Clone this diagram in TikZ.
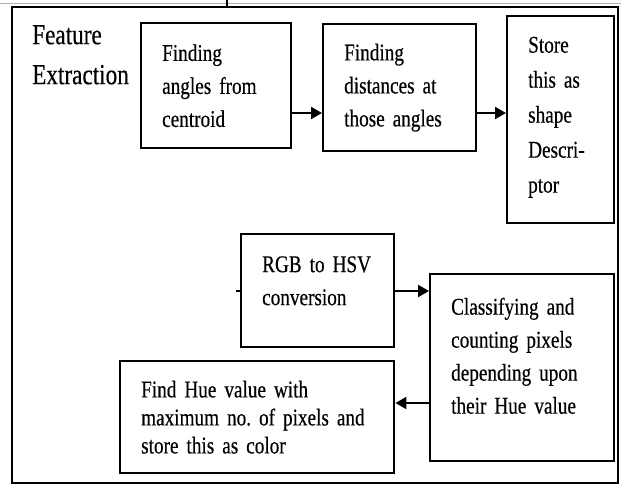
\documentclass[tikz,border=0pt]{standalone}
\usepackage{fontspec}
\setmainfont{Liberation Serif}[FakeStretch=0.8,FakeBold=0.4,WordSpace=0.7]
\usetikzlibrary{arrows.meta}
\begin{document}
\frenchspacing
\begin{tikzpicture}[x=1pt,y=-1pt,
  box/.style={draw=black,line width=2.4pt,anchor=north west,inner xsep=21pt,inner ysep=0pt,
    align=left,font=\fontsize{24}{33}\selectfont},
  arr/.style={line width=2pt,-{Triangle[length=11pt,width=12pt]}},
  stub/.style={line width=2pt}]
\useasboundingbox (0,0) rectangle (621,485);
\fill[white] (0,0) rectangle (621,485);
\draw[gray!60,line width=1pt] (0,3) -- (621,3);
\draw[line width=2pt] (12,7) rectangle (618,483);
\node[anchor=north west,align=left,inner sep=0pt,font=\fontsize{29}{40}\selectfont] (title) at (32,25) {Feature\\Extraction};
\node[box,text width=108pt,minimum height=125pt] (b1) at (140,22) {\mbox{Finding}\\\mbox{angles from}\\\mbox{centroid}};
\node[box,text width=111pt,minimum height=127pt] (b2) at (322,23) {\mbox{Finding}\\\mbox{distances at}\\\mbox{those angles}};
\node[box,text width=65pt,minimum height=207pt,font=\fontsize{24}{35}\selectfont] (b3) at (506,15) {\mbox{Store}\\\mbox{this as}\\\mbox{shape}\\\mbox{Descri-}\\\mbox{ptor}\\[-25pt]\mbox{}};
\node[box,text width=111pt,minimum height=113pt] (rgb) at (240,233) {\mbox{RGB to HSV}\\\mbox{conversion}\\[-13pt]\mbox{}};
\node[box,text width=142pt,minimum height=187pt] (cls) at (429,273) {\mbox{Classifying and}\\\mbox{counting pixels}\\\mbox{depending upon}\\\mbox{their Hue value}\\[-9pt]\mbox{}};
\node[box,text width=232pt,minimum height=112pt,font=\fontsize{24}{28}\selectfont] (hue) at (119,360) {\mbox{Find Hue value with}\\\mbox{maximum no. of pixels and}\\\mbox{store this as color}};
\draw[arr] (b1.east |- 0,113) -- (b2.west |- 0,113);
\draw[arr] (b2.east |- 0,113) -- (b3.west |- 0,113);
\draw[arr] (rgb.east |- 0,291) -- (cls.west |- 0,291);
\draw[arr] (cls.west |- 0,403) -- (hue.east |- 0,403);
\coordinate (t1) at (227,0);
\draw[stub] (t1) -- (t1 |- 0,7);
\coordinate (t2) at (236,291);
\draw[stub] (t2) -- (t2 -| rgb.west);
\end{tikzpicture}
\end{document}
